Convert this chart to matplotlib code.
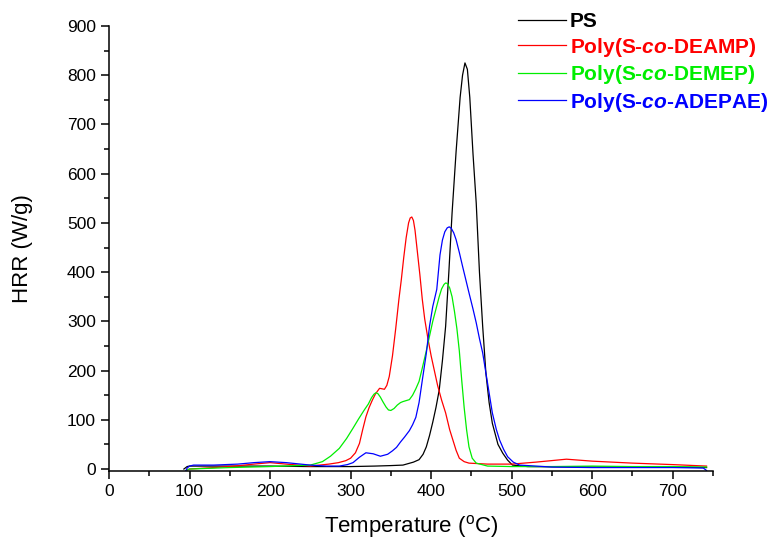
import matplotlib
matplotlib.use("Agg")
import matplotlib.pyplot as plt
from matplotlib.ticker import MultipleLocator

plt.rcParams['font.family'] = ['Liberation Sans', 'DejaVu Sans']
plt.rcParams['mathtext.fontset'] = 'custom'
plt.rcParams['mathtext.rm'] = 'Liberation Sans'
plt.rcParams['mathtext.it'] = 'Liberation Sans:italic:bold'

# PS
t_ps = [93, 97, 100, 120, 150, 200, 250, 300, 330, 350, 365, 378, 385, 390, 394, 398, 402,
        406, 410, 414, 418, 422, 426, 431, 436, 439, 442, 445, 448, 452, 456, 460, 464, 468,
        472, 476, 483, 489, 495, 501, 520, 600, 700, 742]
hrr_ps = [0, 5, 6, 6, 6, 6, 5, 5, 6, 7, 8, 14, 19, 30, 45, 68, 95,
          125, 160, 220, 290, 400, 520, 645, 755, 800, 825, 812, 755, 640, 540, 400, 290, 195,
          135, 93, 50, 32, 18, 8, 5, 4, 4, 3]

# Poly(S-co-DEAMP)
t_deamp = [97, 100, 120, 150, 180, 200, 220, 250, 273, 285, 294, 300, 306, 311, 315, 319,
           323, 327, 331, 336, 339, 342, 345, 348, 352, 356, 360, 363, 366, 369, 372, 374,
           376, 378, 380, 383, 386, 389, 392, 396, 400, 404, 408, 413, 418, 423, 427, 431,
           435, 441, 447, 470, 500, 530, 568, 600, 650, 700, 742]
hrr_deamp = [-2, 0, 2, 5, 10, 13, 10, 6, 10, 13, 17, 22, 33, 52, 80, 106,
             125, 140, 153, 164, 163, 162, 170, 188, 230, 285, 345, 385, 430, 470, 500, 510,
             512, 505, 485, 440, 395, 345, 305, 265, 230, 200, 170, 140, 114, 80, 59, 38,
             22, 15, 12, 10, 10, 14, 20, 16, 12, 9, 6]

# Poly(S-co-DEMEP)
t_demep = [97, 100, 150, 200, 250, 265, 275, 286, 295, 303, 310, 317, 322, 326, 329, 331.5,
           334, 337, 340, 344, 347, 350, 354, 358, 362, 365, 369, 373, 377, 381, 385, 389,
           394, 398, 402, 406, 410, 413, 416, 418, 420, 423, 426, 429, 432, 435, 438, 441,
           444, 447, 451, 456, 470, 500, 550, 600, 650, 700, 742]
hrr_demep = [-2, 0, 3, 5, 8, 15, 26, 42, 62, 83, 102, 120, 132, 145, 152, 155,
             153, 146, 137, 126, 120, 119, 123, 130, 135, 137, 139, 141, 150, 163, 178, 205,
             240, 270, 300, 325, 350, 366, 375, 378, 377, 368, 350, 320, 285, 240, 180, 125,
             80, 45, 22, 12, 6, 5, 5, 6, 5, 5, 4]

# Poly(S-co-ADEPAE)
t_adepae = [95, 97, 100, 105, 130, 160, 180, 200, 220, 250, 270, 286, 296, 303, 311, 319,
            328, 337, 346, 352, 357, 362, 367, 373, 377, 381, 385, 389, 394, 398, 402, 407,
            411, 414, 417, 420, 422.5, 425, 428, 431, 435, 439, 443, 447, 452, 456, 460, 464,
            470, 476, 481, 485, 490, 495, 502, 510, 550, 600, 650, 700, 738, 742]
hrr_adepae = [-5, 2, 6, 8, 8, 10, 13, 15, 13, 8, 6, 6, 9, 13, 24, 33,
              31, 26, 30, 37, 44, 55, 65, 78, 90, 105, 135, 180, 235, 290, 330, 365,
              435, 465, 482, 490, 492, 489, 480, 466, 440, 412, 385, 358, 325, 297, 265, 236,
              175, 114, 80, 59, 40, 25, 14, 8, 4, 3, 3, 3, 2, -3]

labels = ['PS', r'Poly(S-$co$-DEAMP)', r'Poly(S-$co$-DEMEP)', r'Poly(S-$co$-ADEPAE)']
colors = ['#000000', '#ff0000', '#00ee00', '#0000ff']

fig = plt.figure(figsize=(7.74, 5.42), dpi=100)
ax = fig.add_axes([109 / 774, 1 - 471 / 542, (713 - 109) / 774, (471 - 26) / 542])

series = [(t_ps, hrr_ps), (t_deamp, hrr_deamp), (t_demep, hrr_demep), (t_adepae, hrr_adepae)]
for (t, h), lab, c in zip(series, labels, colors):
    ax.plot(t, h, color=c, lw=0.9, label=lab)

ax.set_xlim(0, 750)
ax.set_ylim(-4, 900)
ax.xaxis.set_major_locator(MultipleLocator(100))
ax.xaxis.set_minor_locator(MultipleLocator(50))
ax.yaxis.set_major_locator(MultipleLocator(100))
ax.yaxis.set_minor_locator(MultipleLocator(50))
ax.spines['top'].set_visible(False)
ax.spines['right'].set_visible(False)
for s in ('left', 'bottom'):
    ax.spines[s].set_linewidth(1.1)
ax.tick_params(which='major', direction='out', length=6, width=1.1, labelsize=12.5)
ax.tick_params(which='minor', direction='out', length=3.5, width=1.1)

ax.set_xlabel(r'Temperature ($^{\rm o}$C)', fontsize=16, labelpad=10)
ax.set_ylabel('HRR (W/g)', fontsize=16, labelpad=24)

leg = ax.legend(loc='upper left', bbox_to_anchor=(518 / 774, 1 - 12 / 542),
                bbox_transform=fig.transFigure, frameon=False,
                prop={'size': 15, 'weight': 'bold'}, handlelength=2.3,
                handletextpad=0.2, labelspacing=0.22, borderpad=0, borderaxespad=0)
for txt, c in zip(leg.get_texts(), colors):
    txt.set_color(c)

fig.savefig('out.png', dpi=100)
